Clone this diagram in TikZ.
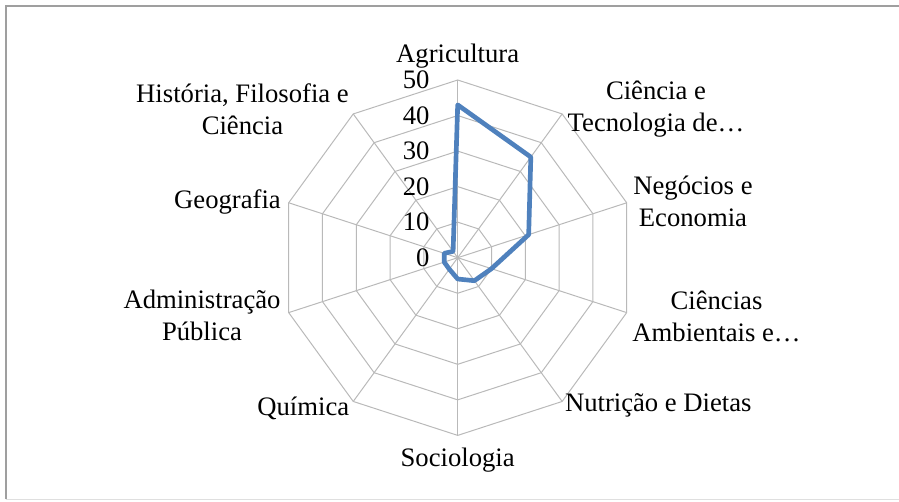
\documentclass[tikz,border=0pt]{standalone}
\usepackage{fontspec}
\setmainfont{Liberation Serif}
\definecolor{azulserie}{RGB}{79,129,189}
\tikzset{
  grade/.style={draw=gray!55, line width=0.75pt},
  linha/.style={draw=azulserie, line width=3.5pt, line join=round},
  rotulo/.style={font=\fontsize{20}{24}\selectfont, align=center, inner sep=0pt},
  valor/.style={font=\fontsize{20}{24}\selectfont, anchor=east, inner sep=0pt},
  moldura/.style={draw=gray!75, line width=1.5pt}
}
\begin{document}
\begin{tikzpicture}[x=0.75pt,y=0.75pt]
  \useasboundingbox (-457.7,-244.3) rectangle (441.3,257.7);
  \draw[moldura] (-451.2,-241.6) |- (445,251.7);
  \draw[draw=gray!25, line width=1pt] (-451.2,-241.6) -- (445,-241.6);
  % grade da teia
  \foreach \k in {1,...,5}
    \draw[grade] (90:\k*35.54) \foreach \a in {54,18,...,-234} { -- (\a:\k*35.54) } -- cycle;
  \foreach \a in {90,54,...,-234}
    \draw[grade] (0,0) -- (\a:177.7);
  % escala
  \foreach \v in {0,10,...,50}
    \node[valor] (v\v) at (-28,\v*3.554) {\v};
  % serie
  \draw[linha] (90:43*3.554) -- (54:35*3.554) -- (18:21*3.554) -- (-18:10*3.554)
    -- (-54:8*3.554) -- (-90:6*3.554) -- (-126:4*3.554) -- (-162:4*3.554)
    -- (162:4*3.554) -- (126:2.2*3.554) -- cycle;
  % categorias
  \node[rotulo] (agri) at (0,201.7) {Agricultura};
  \node[rotulo] (cienc) at (198.3,148.7) {Ciência e\\Tecnologia de…};
  \node[rotulo] (neg) at (235.3,56.7) {Negócios e\\Economia};
  \node[rotulo] (amb) at (258.8,-58.3) {Ciências\\Ambientais e…};
  \node[rotulo] (nutr) at (200.6,-147.3) {Nutrição e Dietas};
  \node[rotulo] (socio) at (0,-202.3) {Sociologia};
  \node[rotulo] (quim) at (-154.4,-150.6) {Química};
  \node[rotulo] (adm) at (-255.7,-57.3) {Administração\\Pública};
  \node[rotulo] (geo) at (-230.2,56) {Geografia};
  \node[rotulo] (hist) at (-215.2,148.7) {História, Filosofia e\\Ciência};
\end{tikzpicture}
\end{document}
